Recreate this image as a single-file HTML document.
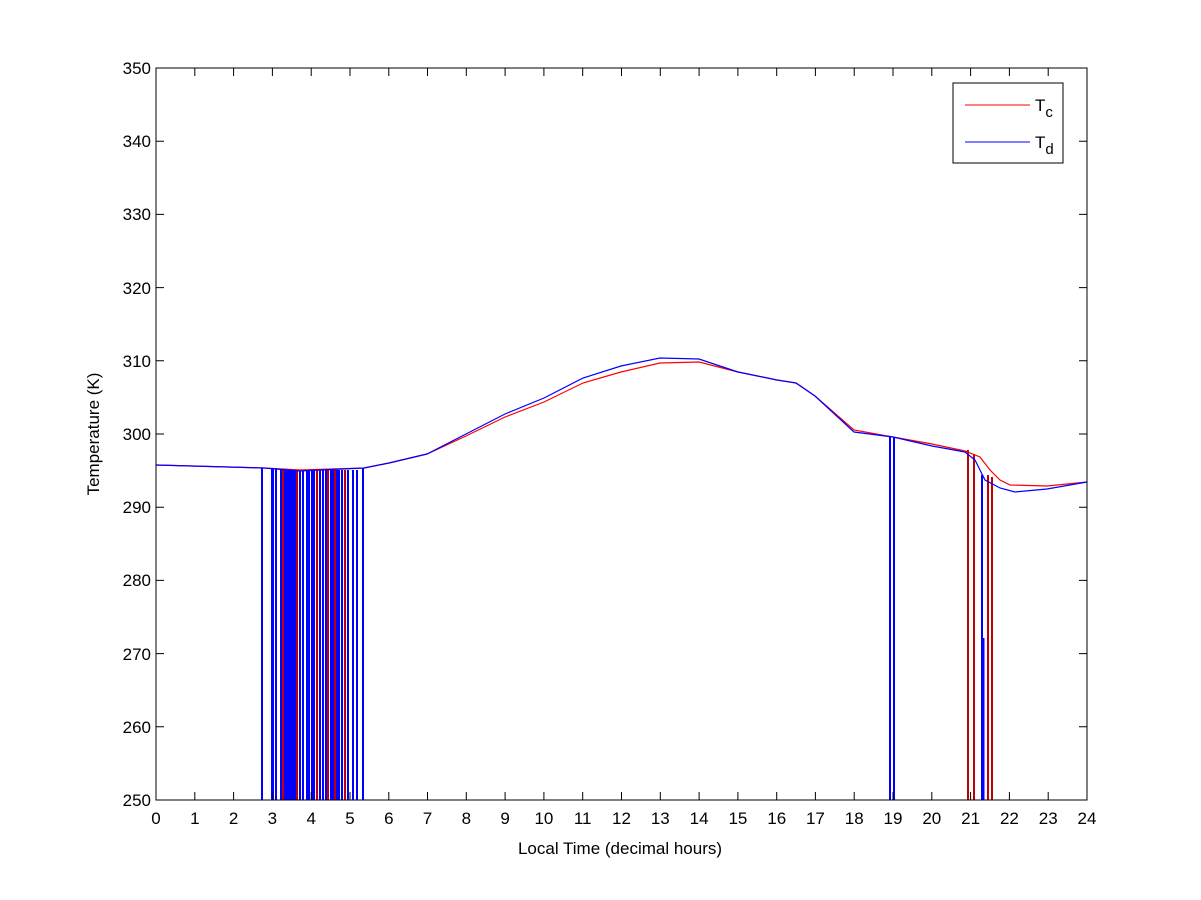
<!DOCTYPE html>
<html><head><style>body{margin:0;background:#fff}svg{display:block}text{font-family:"Liberation Sans",sans-serif;font-size:17px;fill:#000}</style></head><body>
<svg width="1201" height="900" xmlns="http://www.w3.org/2000/svg">
<rect width="1201" height="900" fill="#fff"/>
<g stroke="#0000ff" stroke-width="2">
<path d="M262 468V800M272 468V800M273 468V800M276 468V800M281 470V800M284 470V800M286 470V800M288 470V800M290 470V800M292 470V800M293 470V800M295 470V800M300 470V800M303 470V800M307 470V800M309 470V800M312 470V800M314 470V800M320 470V800M323 470V800M326 470V800M331 470V800M333 470V800M337 470V800M339 470V800M342 470V800M348 470V800M353 470V800M357 470V800M363 468V800"/>
<path d="M890 436V800M894 437V800M982 475V800" />
<path d="M983 638V800" stroke-width="3"/>
</g>
<g stroke="#c00000" stroke-width="2">
<path d="M283 470V800M297 470V800M317 470V800M328 470V800M335 470V800M345 470V800"/>
<path d="M968 450V800M974 454V800M988 475V800M992 477V800"/>
</g>
<polyline fill="none" stroke="#ff0000" stroke-width="1.2" points="156,465 264,468 300,470 364,468 389,463 427,454 466,436 505,417 544,402 583,383 621,372 660,363 699,362 738,372 777,380 796,383 815,396 854,430 893,437 932,444 965,451 980,457 990,470 1000,480 1010,485 1047,486 1087,482"/>
<polyline fill="none" stroke="#0000ff" stroke-width="1.2" points="156,465 264,468 300,471 364,468 389,463 427,454 466,434 505,414 544,398 583,378 621,366 660,358 699,359 738,372 777,380 796,383 815,396 854,432 893,437 932,446 965,452 975,460 985,480 1000,488 1015,492 1047,489 1087,482"/>
<rect x="156" y="68" width="931" height="732" fill="none" stroke="#000"/>
<g stroke="#000">
<path d="M156 800v-8M194.8 800v-8M233.6 800v-8M272.4 800v-8M311.2 800v-8M350 800v-8M388.8 800v-8M427.5 800v-8M466.3 800v-8M505.1 800v-8M543.9 800v-8M582.7 800v-8M621.5 800v-8M660.3 800v-8M699.1 800v-8M737.9 800v-8M776.7 800v-8M815.4 800v-8M854.2 800v-8M893 800v-8M931.8 800v-8M970.6 800v-8M1009.4 800v-8M1048.2 800v-8"/>
<path d="M194.8 68v8M233.6 68v8M272.4 68v8M311.2 68v8M350 68v8M388.8 68v8M427.5 68v8M466.3 68v8M505.1 68v8M543.9 68v8M582.7 68v8M621.5 68v8M660.3 68v8M699.1 68v8M737.9 68v8M776.7 68v8M815.4 68v8M854.2 68v8M893 68v8M931.8 68v8M970.6 68v8M1009.4 68v8M1048.2 68v8"/>
<path d="M156 141.2h8M156 214.4h8M156 287.6h8M156 360.8h8M156 434h8M156 507.2h8M156 580.4h8M156 653.6h8M156 726.8h8M1087 141.2h-8M1087 214.4h-8M1087 287.6h-8M1087 360.8h-8M1087 434h-8M1087 507.2h-8M1087 580.4h-8M1087 653.6h-8M1087 726.8h-8"/>
</g>
<g text-anchor="end">
<text x="151" y="74">350</text><text x="151" y="147">340</text><text x="151" y="220">330</text><text x="151" y="294">320</text><text x="151" y="367">310</text><text x="151" y="440">300</text><text x="151" y="513">290</text><text x="151" y="586">280</text><text x="151" y="660">270</text><text x="151" y="733">260</text><text x="151" y="806">250</text>
</g>
<g text-anchor="middle">
<text x="156" y="824">0</text><text x="194.8" y="824">1</text><text x="233.6" y="824">2</text><text x="272.4" y="824">3</text><text x="311.2" y="824">4</text><text x="350" y="824">5</text><text x="388.8" y="824">6</text><text x="427.5" y="824">7</text><text x="466.3" y="824">8</text><text x="505.1" y="824">9</text><text x="543.9" y="824">10</text><text x="582.7" y="824">11</text><text x="621.5" y="824">12</text><text x="660.3" y="824">13</text><text x="699.1" y="824">14</text><text x="737.9" y="824">15</text><text x="776.7" y="824">16</text><text x="815.4" y="824">17</text><text x="854.2" y="824">18</text><text x="893" y="824">19</text><text x="931.8" y="824">20</text><text x="970.6" y="824">21</text><text x="1009.4" y="824">22</text><text x="1048.2" y="824">23</text><text x="1087" y="824">24</text>
<text x="620" y="854">Local Time (decimal hours)</text>
<text transform="translate(99 434) rotate(-90)">Temperature (K)</text>
</g>
<rect x="953" y="83" width="110" height="80" fill="#fff" stroke="#000"/>
<line x1="965" y1="105" x2="1030" y2="105" stroke="#ff0000"/>
<line x1="965" y1="142" x2="1030" y2="142" stroke="#0000ff"/>
<text x="1035" y="111" font-size="21">T<tspan font-size="15" dy="6">c</tspan></text>
<text x="1035" y="148" font-size="21">T<tspan font-size="15" dy="6">d</tspan></text>
</svg>
</body></html>
